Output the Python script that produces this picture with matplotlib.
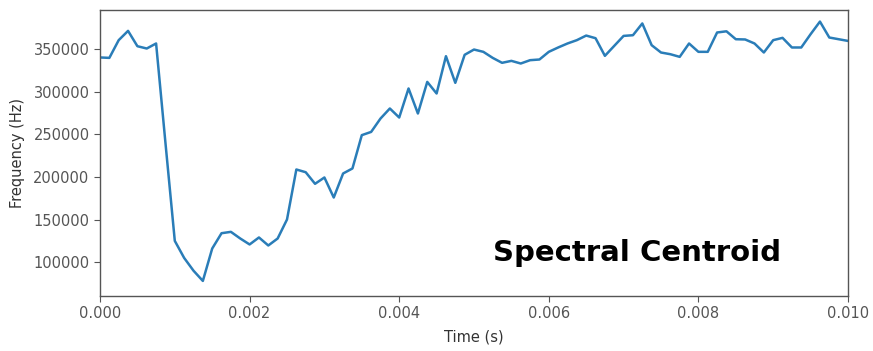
import matplotlib
matplotlib.use("Agg")
import matplotlib.pyplot as plt
import numpy as np

# Time axis: 81 frames over 0 .. 0.010 s
t_start = 0.0
t_end = 0.010
n_frames = 81

centroid_hz = [
    340300, 339800, 360600, 371500, 353500, 350800, 356700, 240000, 125000, 105000,
    90000, 78000, 116000, 134000, 135600, 127800, 120800, 129000, 119600, 127800,
    150100, 208800, 205600, 192000, 199400, 175900, 204100, 210000, 249100, 252900,
    268600, 280400, 269800, 303900, 274500, 311600, 298000, 341800, 310500, 343400,
    349600, 346900, 339800, 334000, 336300, 333200, 337100, 337900, 346900, 352000,
    356700, 360600, 366000, 362900, 342200, 353900, 365600, 366400, 380200, 354700,
    346100, 344100, 341000, 356700, 346900, 346900, 369600, 371000, 361700, 361400,
    356700, 346100, 360600, 363300, 352000, 352000, 367600, 382400, 363700, 361700,
    359700,
]

x_ticks = [0.000, 0.002, 0.004, 0.006, 0.008, 0.010]
x_tick_labels = ["0.000", "0.002", "0.004", "0.006", "0.008", "0.010"]
y_ticks = [100000, 150000, 200000, 250000, 300000, 350000]
y_tick_labels = ["100000", "150000", "200000", "250000", "300000", "350000"]

times = np.linspace(t_start, t_end, n_frames)

fig = plt.figure(figsize=(8.73, 3.51), dpi=100)
ax = fig.add_axes([100 / 873, 55 / 351, 748 / 873, 286 / 351])
ax.plot(times, centroid_hz, color="#2a7db8", linewidth=1.8)

ax.set_xlim(t_start, t_end)
ax.set_ylim(60300, 396000)
ax.set_xticks(x_ticks)
ax.set_xticklabels(x_tick_labels, fontsize=10.5, color="#333333")
ax.set_yticks(y_ticks)
ax.set_yticklabels(y_tick_labels, fontsize=10.5, color="#333333")
ax.set_xlabel("Time (s)", fontsize=10.5, color="#333333", labelpad=6)
ax.set_ylabel("Frequency (Hz)", fontsize=10.5, color="#333333", labelpad=6)
for sp in ax.spines.values():
    sp.set_color("#555555")
    sp.set_linewidth(1.0)
ax.tick_params(colors="#555555", length=4)

ax.text(0.526, 0.15, "Spectral Centroid", transform=ax.transAxes,
        fontsize=21, fontweight="bold", family="DejaVu Sans",
        ha="left", va="center", color="black")

fig.savefig("out.png", dpi=100)
